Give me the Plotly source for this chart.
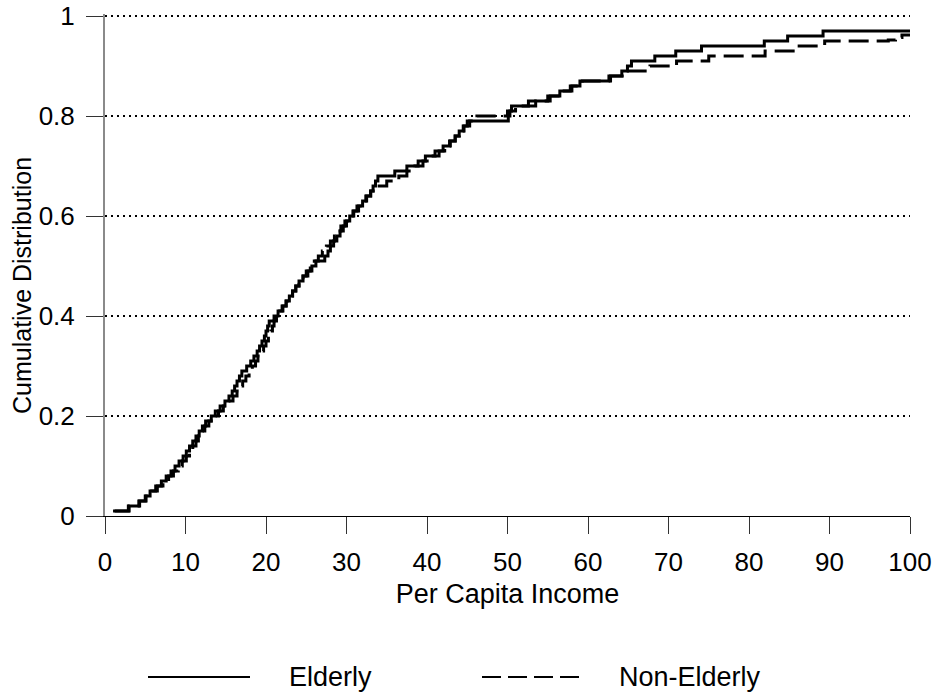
import plotly.graph_objects as go

# Empirical cumulative distribution of per capita income (step points)
elderly_income = [1.0, 2.9, 4.2, 5.0, 5.6, 6.3, 7.0, 7.6, 8.2, 8.7, 9.2, 9.7, 10.1, 10.5, 10.9,
                  11.3, 11.7, 12.1, 12.5, 13.2, 13.7, 14.3, 14.9, 15.4, 15.8, 16.1, 16.4, 16.7,
                  17.0, 17.6, 18.1, 18.5, 18.9, 19.2, 19.5, 19.8, 20.0, 20.2, 20.4, 21.0, 21.5,
                  22.0, 22.5, 22.9, 23.3, 23.7, 24.1, 24.6, 25.2, 25.7, 26.2, 27.3, 27.7, 28.0,
                  28.4, 28.8, 29.2, 29.6, 30.0, 30.4, 30.9, 31.5, 32.0, 32.5, 33.0, 33.3, 33.6,
                  33.9, 36.0, 37.5, 38.9, 39.8, 41.0, 42.0, 42.8, 43.5, 44.0, 44.5, 45.0, 50.1,
                  50.3, 50.5, 52.6, 55.0, 56.5, 57.8, 59.0, 62.6, 64.2, 64.9, 65.4, 68.3, 70.9,
                  74.1, 81.9, 84.8, 89.2, 100.0]
elderly_cdf = [0.01, 0.02, 0.03, 0.04, 0.05, 0.06, 0.07, 0.08, 0.09, 0.10, 0.11, 0.12, 0.13, 0.14,
               0.15, 0.16, 0.17, 0.18, 0.19, 0.20, 0.21, 0.22, 0.23, 0.24, 0.25, 0.26, 0.27, 0.28,
               0.29, 0.30, 0.31, 0.32, 0.33, 0.34, 0.35, 0.36, 0.37, 0.38, 0.39, 0.40, 0.41, 0.42,
               0.43, 0.44, 0.45, 0.46, 0.47, 0.48, 0.49, 0.50, 0.51, 0.52, 0.53, 0.54, 0.55, 0.56,
               0.57, 0.58, 0.59, 0.60, 0.61, 0.62, 0.63, 0.64, 0.65, 0.66, 0.67, 0.68, 0.69, 0.70,
               0.71, 0.72, 0.73, 0.74, 0.75, 0.76, 0.77, 0.78, 0.79, 0.80, 0.81, 0.82, 0.83, 0.84,
               0.85, 0.86, 0.87, 0.88, 0.89, 0.90, 0.91, 0.92, 0.93, 0.94, 0.95, 0.96, 0.97, 0.97]

nonelderly_income = [1.2, 3.0, 4.3, 5.1, 5.8, 6.5, 7.2, 7.9, 8.5, 9.1, 9.6, 10.1, 10.5, 10.9, 11.3,
                     11.6, 12.0, 12.4, 12.9, 13.5, 14.1, 14.7, 15.3, 15.9, 16.4, 16.8, 17.1, 17.5,
                     17.9, 18.3, 18.7, 19.0, 19.4, 19.7, 20.0, 20.3, 20.6, 20.8, 21.0, 21.3, 21.7,
                     22.1, 22.5, 22.9, 23.3, 23.7, 24.1, 24.6, 25.0, 25.5, 26.0, 26.5, 27.0, 27.5,
                     28.0, 28.5, 28.9, 29.3, 29.8, 30.3, 30.8, 31.3, 31.9, 32.4, 33.0, 33.6, 35.0,
                     36.5, 37.5, 38.5, 39.5, 40.5, 41.5, 42.2, 42.9, 43.5, 44.0, 44.6, 45.3, 46.2,
                     50.0, 51.0, 53.5, 55.3, 56.8, 58.0, 59.3, 62.8, 64.6, 67.7, 71.0, 75.0, 82.0,
                     85.8, 89.4, 97.3, 98.2, 99.0, 100.0]
nonelderly_cdf = [0.01, 0.02, 0.03, 0.04, 0.05, 0.06, 0.07, 0.08, 0.09, 0.10, 0.11, 0.12, 0.13,
                  0.14, 0.15, 0.16, 0.17, 0.18, 0.19, 0.20, 0.21, 0.22, 0.23, 0.24, 0.25, 0.26,
                  0.27, 0.28, 0.29, 0.30, 0.31, 0.32, 0.33, 0.34, 0.35, 0.36, 0.37, 0.38, 0.39,
                  0.40, 0.41, 0.42, 0.43, 0.44, 0.45, 0.46, 0.47, 0.48, 0.49, 0.50, 0.51, 0.52,
                  0.53, 0.54, 0.55, 0.56, 0.57, 0.58, 0.59, 0.60, 0.61, 0.62, 0.63, 0.64, 0.65,
                  0.66, 0.67, 0.68, 0.69, 0.70, 0.71, 0.72, 0.73, 0.74, 0.75, 0.76, 0.77, 0.78,
                  0.79, 0.80, 0.81, 0.82, 0.83, 0.84, 0.85, 0.86, 0.87, 0.88, 0.89, 0.90, 0.91,
                  0.92, 0.93, 0.94, 0.95, 0.952, 0.957, 0.962, 0.962]

x_ticks = [0, 10, 20, 30, 40, 50, 60, 70, 80, 90, 100]
y_ticks = [0, 0.2, 0.4, 0.6, 0.8, 1]
y_tick_labels = ["0", "0.2", "0.4", "0.6", "0.8", "1"]
series_names = ["Elderly", "Non-Elderly"]

FONT = "Liberation Sans, Arial, sans-serif"
W, H = 938, 694
# y range runs a touch past 1 so the top grid line is kept
Y_MAX = 1.004
L, R, T, B = 105, 28, 14, 178
PW, PH = W - L - R, H - T - B


def px_x(p):
    return (p - L) / PW


def px_y(p):
    return (H - B - p) / PH


fig = go.Figure()
fig.add_trace(go.Scatter(x=elderly_income, y=elderly_cdf, mode="lines", line_shape="hv",
                         line=dict(color="black", width=3), name=series_names[0],
                         showlegend=False))
fig.add_trace(go.Scatter(x=nonelderly_income, y=nonelderly_cdf, mode="lines", line_shape="hv",
                         line=dict(color="black", width=3, dash="20px,8px"),
                         name=series_names[1], showlegend=False))

# Legend drawn beneath the axis title
legend_y = px_y(677)
fig.add_shape(type="line", xref="paper", yref="paper", x0=px_x(148), x1=px_x(250),
              y0=legend_y, y1=legend_y, line=dict(color="black", width=2))
fig.add_shape(type="line", xref="paper", yref="paper", x0=px_x(482), x1=px_x(581),
              y0=legend_y, y1=legend_y, line=dict(color="black", width=2, dash="19px,7px"))
for name, xp in zip(series_names, [287, 617]):
    fig.add_annotation(text=name, xref="paper", yref="paper", x=px_x(xp), y=legend_y,
                       xanchor="left", yanchor="middle", showarrow=False,
                       font=dict(family=FONT, size=27, color="black"))

fig.add_annotation(text="Cumulative Distribution", xref="paper", yref="paper",
                   x=px_x(22), y=px_y(286), textangle=-90, xanchor="center",
                   yanchor="middle", showarrow=False,
                   font=dict(family=FONT, size=25, color="black"))

fig.update_layout(
    width=W, height=H,
    margin=dict(l=L, r=R, t=T, b=B),
    paper_bgcolor="white", plot_bgcolor="white",
    font=dict(family=FONT, size=25, color="black"),
    xaxis=dict(range=[0, 100], tickvals=x_ticks, showgrid=False, zeroline=False,
               automargin=False,
               showline=True, linecolor="black", linewidth=1,
               ticks="outside", ticklen=17, tickcolor="#333", tickwidth=1,
               tickfont=dict(size=26), ticklabelstandoff=6,
               title=dict(text="Per Capita Income", font=dict(size=27), standoff=7)),
    yaxis=dict(range=[0, Y_MAX], tickvals=y_ticks, ticktext=y_tick_labels, zeroline=False,
               automargin=False,
               showgrid=True, gridcolor="black", gridwidth=2, griddash="2px,4px",
               showline=True, linecolor="#8a8a8a", linewidth=2,
               ticks="outside", ticklen=17, tickcolor="#333", tickwidth=1,
               tickfont=dict(size=26), ticklabelstandoff=6),
)

fig.write_html("out.html")
